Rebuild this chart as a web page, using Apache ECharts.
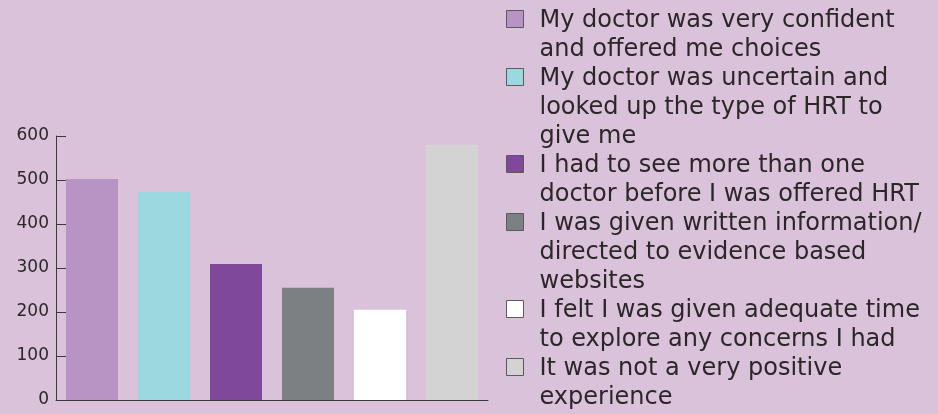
<!DOCTYPE html>
<html>
<head>
<meta charset="utf-8">
<script src="https://cdn.jsdelivr.net/npm/echarts@6/dist/echarts.min.js"></script>
<style>
  html, body { margin: 0; padding: 0; background: #dac2da; }
  #chart { width: 938px; height: 414px; }
</style>
</head>
<body>
<div id="chart"></div>
<script>
// ---- data ----
const categories = [
  'My doctor was very confident\nand offered me choices',
  'My doctor was uncertain and\nlooked up the type of HRT to\ngive me',
  'I had to see more than one\ndoctor before I was offered HRT',
  'I was given written information/\ndirected to evidence based\nwebsites',
  'I felt I was given adequate time\nto explore any concerns I had',
  'It was not a very positive\nexperience'
];
const values = [502, 473, 309, 255, 205, 580];
const colors = ['#b794c4', '#9cd8df', '#7f489b', '#7d8083', '#ffffff', '#d3d3d3'];
const yTicks = { min: 0, max: 600, interval: 100 };

// ---- chart ----
const chart = echarts.init(document.getElementById('chart'), null, { renderer: 'canvas' });
const FONT = 'DejaVu Sans';
const TEXT = '#2b2728';
const LINE_H = 29;

const series = categories.map((name, i) => ({
  name: name,
  type: 'bar',
  barWidth: 52,
  barGap: '-100%',
  itemStyle: { color: colors[i] },
  data: categories.map((c, j) => (j === i ? values[i] : null))
}));

let legendTop = 5.5;
const legends = categories.map((name, i) => {
  const lines = name.split('\n').length;
  const h = lines * LINE_H;
  const lg = {
    data: [name],
    left: 506,
    top: legendTop,
    orient: 'vertical',
    padding: 0,
    itemGap: 0,
    itemWidth: 28,
    itemHeight: h,
    selectedMode: false,
    icon: 'path://M0,0 M0,4.5 L17,4.5 L17,21.5 L0,21.5 Z M28,' + h,
    itemStyle: { borderColor: '#5a5a5a', borderWidth: 1 },
    textStyle: { fontFamily: FONT, fontSize: 24, lineHeight: LINE_H, color: TEXT }
  };
  legendTop += h;
  return lg;
});

chart.setOption({
  backgroundColor: '#dac2da',
  animation: false,
  grid: { left: 56, right: 450, top: 136, bottom: 14, containLabel: false },
  legend: legends,
  xAxis: {
    type: 'category',
    data: categories,
    axisLine: { lineStyle: { color: '#3a3a3a', width: 1 } },
    axisTick: { inside: true, length: 7, lineStyle: { color: '#3a3a3a' } },
    axisLabel: { show: false },
    splitLine: { show: false }
  },
  yAxis: {
    type: 'value',
    min: yTicks.min,
    max: yTicks.max,
    interval: yTicks.interval,
    axisLine: { show: true, lineStyle: { color: '#3a3a3a', width: 1 } },
    axisTick: { show: true, inside: true, length: 10, lineStyle: { color: '#3a3a3a' } },
    axisLabel: { fontFamily: FONT, fontSize: 17, color: TEXT, margin: 7 },
    splitLine: { show: false }
  },
  series: series
});
</script>
</body>
</html>
